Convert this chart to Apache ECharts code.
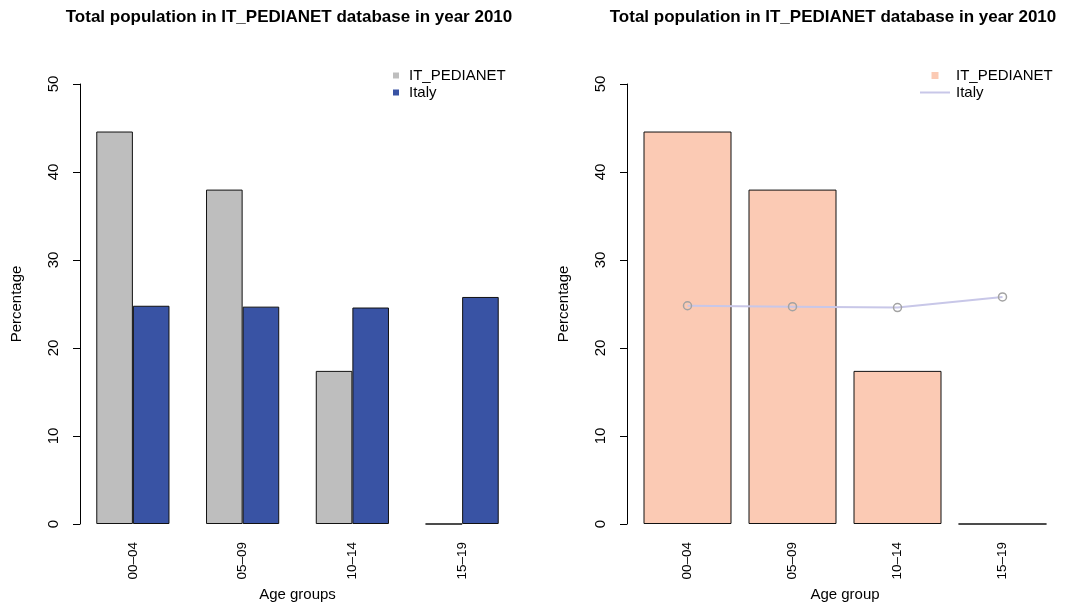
<!DOCTYPE html>
<html>
<head>
<meta charset="utf-8">
<title>Total population in IT_PEDIANET database in year 2010</title>
<script src="https://cdn.jsdelivr.net/npm/echarts@6/dist/echarts.min.js"></script>
<style>
  html, body { margin: 0; padding: 0; background: #ffffff; }
  #chart { width: 1080px; height: 612px; }
</style>
</head>
<body>
<div id="chart"></div>
<script>
// Age bands and population shares (%) for 2010
const ageGroups = ['00–04', '05–09', '10–14', '15–19'];
const pedianetShare = [44.6, 38.0, 17.4, 0];
const italyShare = [24.8, 24.7, 24.6, 25.8];
const yTicks = [0, 10, 20, 30, 40, 50];

const titleText = 'Total population in IT_PEDIANET database in year 2010';
const FONT = 'Liberation Sans, Arial, Helvetica, sans-serif';

const chart = echarts.init(document.getElementById('chart'), null, { renderer: 'canvas' });

function valueAxis(gridIndex, offset) {
  return {
    type: 'value', gridIndex: gridIndex,
    min: yTicks[0], max: yTicks[yTicks.length - 1], interval: 10,
    offset: offset,
    name: 'Percentage', nameLocation: 'middle', nameGap: 56,
    nameTextStyle: { color: '#000', fontFamily: FONT, fontSize: 15 },
    axisLine: { show: true, lineStyle: { color: '#000', width: 1 } },
    axisTick: { show: true, inside: false, length: 7, lineStyle: { color: '#000' } },
    axisLabel: { rotate: 90, margin: 19, color: '#000', fontFamily: FONT, fontSize: 15 },
    splitLine: { show: false }
  };
}

function categoryAxis(gridIndex, name) {
  return {
    type: 'category', gridIndex: gridIndex, data: ageGroups,
    name: name, nameLocation: 'middle', nameGap: 57,
    nameTextStyle: { color: '#000', fontFamily: FONT, fontSize: 15 },
    axisLine: { show: false }, axisTick: { show: false },
    axisLabel: { rotate: 90, margin: 18, color: '#000', fontFamily: FONT, fontSize: 13.5 },
    splitLine: { show: false }
  };
}

const barBorder = { borderColor: '#111', borderWidth: 1 };

chart.setOption({
  animation: false,
  backgroundColor: '#ffffff',
  title: [
    { text: titleText, left: 284, top: 4, textAlign: 'center',
      textStyle: { fontFamily: FONT, fontSize: 17, fontWeight: 'bold', color: '#000' } },
    { text: titleText, left: 828, top: 4, textAlign: 'center',
      textStyle: { fontFamily: FONT, fontSize: 17, fontWeight: 'bold', color: '#000' } }
  ],
  legend: [
    {
      orient: 'vertical', left: 388, top: 63, itemWidth: 16, itemHeight: 6, itemGap: 2,
      selectedMode: false, symbolKeepAspect: true,
      textStyle: { fontFamily: FONT, fontSize: 15, color: '#000' },
      data: [
        { name: 'IT_PEDIANET', icon: 'path://M0,0h1v1h-1z', itemStyle: { color: '#bebebe', borderWidth: 0 } },
        { name: 'Italy', icon: 'path://M0,0h1v1h-1z', itemStyle: { color: '#3953a4', borderWidth: 0 } }
      ]
    },
    {
      orient: 'vertical', left: 915, top: 63, itemWidth: 30, itemHeight: 7, itemGap: 2,
      selectedMode: false, symbolKeepAspect: true,
      textStyle: { fontFamily: FONT, fontSize: 15, color: '#000', padding: [0, 0, 0, 1] },
      data: [
        { name: 'IT_PEDIANET', icon: 'path://M0,0h1v1h-1z', itemStyle: { color: '#fbcab4', borderWidth: 0 } },
        { name: 'Italy', icon: 'path://M0,0h30v2h-30z', itemStyle: { color: '#c8c7e8', borderWidth: 0 } }
      ]
    }
  ],
  grid: [
    { left: 78, right: 563, top: 84, bottom: 88 },
    { left: 635, right: 25, top: 84, bottom: 88 }
  ],
  xAxis: [categoryAxis(0, 'Age groups'), categoryAxis(1, 'Age group')],
  yAxis: [valueAxis(0, -2), valueAxis(1, 8)],
  series: [
    {
      name: 'IT_PEDIANET', type: 'bar', xAxisIndex: 0, yAxisIndex: 0,
      data: pedianetShare, barGap: '0%', barCategoryGap: '33.3%',
      itemStyle: Object.assign({ color: '#bebebe' }, barBorder)
    },
    {
      name: 'Italy', type: 'bar', xAxisIndex: 0, yAxisIndex: 0,
      data: italyShare, barGap: '0%', barCategoryGap: '33.3%',
      itemStyle: Object.assign({ color: '#3953a4' }, barBorder)
    },
    {
      name: 'IT_PEDIANET', type: 'bar', xAxisIndex: 1, yAxisIndex: 1,
      data: pedianetShare, barWidth: 88,
      itemStyle: Object.assign({ color: '#fbcab4' }, barBorder)
    },
    {
      name: 'Italy', type: 'line', xAxisIndex: 1, yAxisIndex: 1,
      data: italyShare, symbol: 'circle', symbolSize: 8,
      lineStyle: { color: '#c8c7e8', width: 2 },
      itemStyle: { color: 'rgba(0,0,0,0)', borderColor: '#a3a3a3', borderWidth: 1.5 },
      z: 3
    }
  ]
});
</script>
</body>
</html>
